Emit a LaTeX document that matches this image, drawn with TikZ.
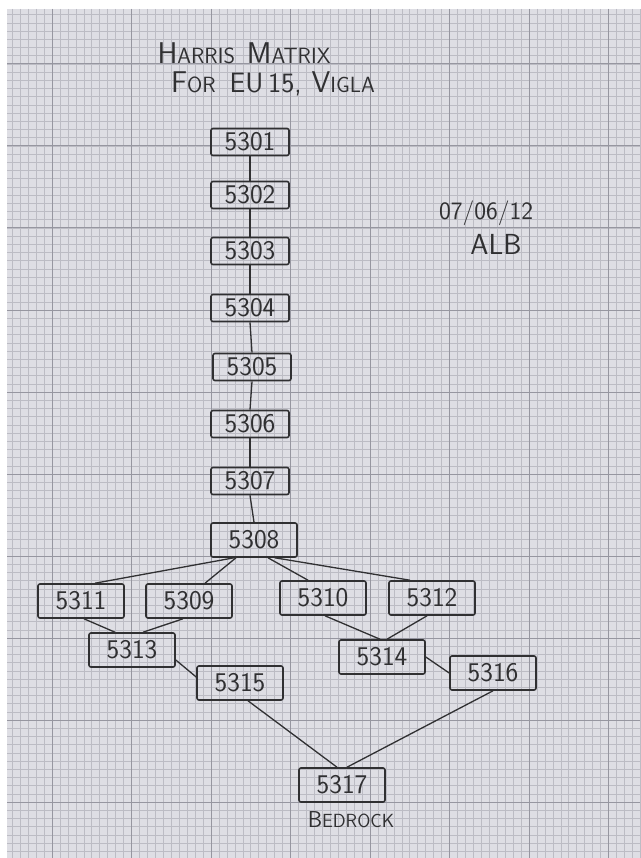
\documentclass[tikz,border=0pt]{standalone}
\usepackage{tikz}
\usetikzlibrary{positioning}
\definecolor{PaperGrey}{RGB}{222,222,228}
\definecolor{GridMinor}{RGB}{188,188,196}
\definecolor{GridMajor}{RGB}{150,150,160}
\definecolor{InkGrey}{RGB}{48,48,50}
\newcommand{\bigsmall}[2]{{\fontsize{30}{32}\selectfont #1}{\fontsize{22}{24}\selectfont #2}}

\begin{document}
\begin{tikzpicture}[x=1pt,y=-1pt,
    unitbox/.style={draw=InkGrey,line width=1.6pt,rounded corners=2pt,
      minimum width=78pt,minimum height=27pt,inner sep=1pt,
      text=InkGrey,font=\sffamily\fontsize{27}{29}\selectfont},
    unitwide/.style={unitbox,minimum width=86pt,minimum height=34pt},
    ink/.style={text=InkGrey,font=\sffamily,inner sep=0pt},
    link/.style={draw=InkGrey,line width=1.3pt}]
  \useasboundingbox (0,0) rectangle (640,858);
  \fill[white] (0,0) rectangle (640,858);
  \fill[PaperGrey] (7,9) rectangle (640,858);
  \foreach \i in {-5,...,74}
    \draw[GridMinor,line width=0.6pt] ({52+7.95*\i},9) -- ({52+7.95*\i},858);
  \foreach \j in {-6,...,96}
    \draw[GridMinor,line width=0.6pt] (7,{64+8.2*\j}) -- (640,{64+8.2*\j});
  \foreach \i in {0,...,7}
    \draw[GridMajor,line width=1pt] ({52+79.5*\i},9) -- ({52+79.5*\i},858);
  \foreach \j in {0,...,9}
    \draw[GridMajor,line width=1pt] (7,{64+82*\j}) -- (640,{64+82*\j});

  \node[ink] (title) at (244,53) {\bigsmall{H}{ARRIS}\hspace{12pt}\bigsmall{M}{ATRIX}};
  \node[ink] (subtitle) at (273,84) {\bigsmall{F}{OR}\hspace{14pt}{\fontsize{28}{30}\selectfont EU\,15,}\hspace{10pt}\bigsmall{V}{IGLA}};
  \node[ink,font=\sffamily\fontsize{25}{27}\selectfont] (date) at (486,213) {07/06/12};
  \node[ink,font=\sffamily\fontsize{29}{31}\selectfont] (initials) at (496,244) {ALB};

  \node[unitbox] (n5301) at (250,142) {5301};
  \node[unitbox] (n5302) at (250,195) {5302};
  \node[unitbox] (n5303) at (250,251) {5303};
  \node[unitbox] (n5304) at (250,308) {5304};
  \node[unitbox] (n5305) at (252,367) {5305};
  \node[unitbox] (n5306) at (250,424) {5306};
  \node[unitbox] (n5307) at (250,481) {5307};
  \node[unitwide] (n5308) at (254,540) {5308};
  \node[unitwide] (n5311) at (81,601) {5311};
  \node[unitwide] (n5309) at (189,601) {5309};
  \node[unitwide] (n5310) at (323,598) {5310};
  \node[unitwide] (n5312) at (432,598) {5312};
  \node[unitwide] (n5313) at (132,650) {5313};
  \node[unitwide] (n5314) at (382,657) {5314};
  \node[unitwide] (n5315) at (240,683) {5315};
  \node[unitwide] (n5316) at (493,673) {5316};
  \node[unitwide] (n5317) at (342,785) {5317};
  \node[ink,below=9pt of n5317,xshift=9pt] (bedrock) {{\fontsize{23}{25}\selectfont B}{\fontsize{19}{21}\selectfont EDROCK}};

  \foreach \a/\b in {5301/5302,5302/5303,5303/5304,5304/5305,5305/5306,5306/5307,5307/5308}
    \draw[link] (n\a.south) -- (n\b.north);
  \draw[link] ([xshift=-20pt]n5308.south) -- ([xshift=14pt]n5311.north);
  \draw[link] ([xshift=-18pt]n5308.south) -- ([xshift=16pt]n5309.north);
  \draw[link] ([xshift=14pt]n5308.south) -- ([xshift=-15pt]n5310.north);
  \draw[link] ([xshift=21pt]n5308.south) -- ([xshift=-22pt]n5312.north);
  \draw[link] ([xshift=3pt]n5311.south) -- ([xshift=-17pt]n5313.north);
  \draw[link] ([xshift=-6pt]n5309.south) -- ([xshift=11pt]n5313.north);
  \draw[link] ([yshift=-10pt]n5313.east) -- ([yshift=6pt]n5315.west);
  \draw[link] ([xshift=2pt]n5310.south) -- ([xshift=-2pt]n5314.north);
  \draw[link] ([xshift=-5pt]n5312.south) -- ([xshift=5pt]n5314.north);
  \draw[link] (n5314.east) -- (n5316.west);
  \draw[link] ([xshift=8pt]n5315.south) -- ([xshift=-5pt]n5317.north);
  \draw[link] (n5316.south) -- ([xshift=5pt]n5317.north);
\end{tikzpicture}
\end{document}
